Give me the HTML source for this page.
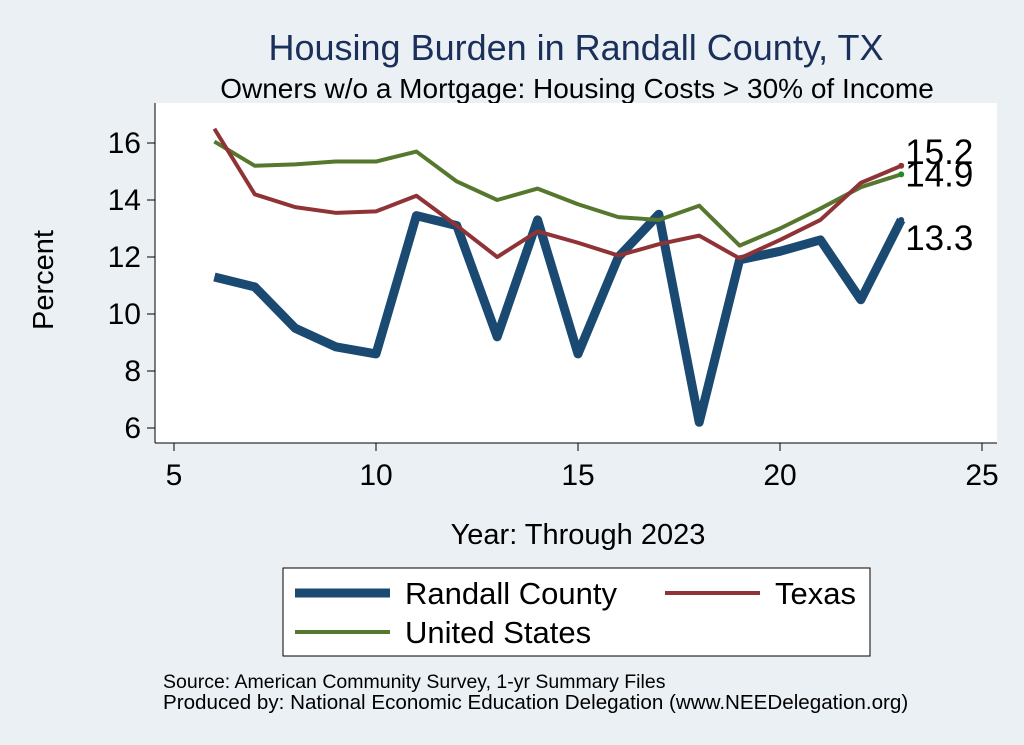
<!DOCTYPE html>
<html><head><meta charset="utf-8"><style>
body{margin:0;background:#eaf0f4;}
svg{display:block;font-family:"Liberation Sans",Arial,sans-serif;}
</style></head><body>
<svg width="1024" height="745">
<rect x="0" y="0" width="1024" height="745" fill="#eaf0f4"/>
<text x="576" y="60" font-size="36" fill="#1a2f5a" text-anchor="middle">Housing Burden in Randall County, TX</text>
<text x="577" y="98" font-size="28" fill="#000" text-anchor="middle">Owners w/o a Mortgage: Housing Costs &gt; 30% of Income</text>
<rect x="155" y="103" width="842" height="340" fill="#fff"/>
<g id="axes"></g>
<g id="series"></g>
<text x="578" y="544" font-size="29" text-anchor="middle">Year: Through 2023</text>
<text transform="translate(53,280) rotate(-90)" font-size="29" text-anchor="middle">Percent</text>
<g>
<rect x="283" y="568" width="587" height="88" fill="#fff" stroke="#000" stroke-width="1"/>
<g><line x1="295" y1="593" x2="390" y2="593" stroke="#1a4a72" stroke-width="9"/><text x="405" y="604" font-size="31">Randall County</text></g>
<g><line x1="665" y1="593" x2="760" y2="593" stroke="#8f3336" stroke-width="4"/><text x="775" y="604" font-size="31">Texas</text></g>
<g><line x1="295" y1="632" x2="390" y2="632" stroke="#55782e" stroke-width="4"/><text x="405" y="643" font-size="31">United States</text></g>
</g>
<text x="163" y="688" font-size="19.5">Source: American Community Survey, 1-yr Summary Files</text>
<text x="163" y="709" font-size="20.6">Produced by: National Economic Education Delegation (www.NEEDelegation.org)</text>
</svg>
<script>
const years=[6,7,8,9,10,11,12,13,14,15,16,17,18,19,20,21,22,23];
const randall=[11.3,10.95,9.5,8.85,8.6,13.45,13.1,9.2,13.3,8.6,12.0,13.5,6.2,11.9,12.2,12.6,10.5,13.3];
const texas=[16.5,14.2,13.75,13.55,13.6,14.15,13.1,12.0,12.9,12.5,12.05,12.45,12.75,11.95,12.6,13.3,14.6,15.2];
const us=[16.05,15.2,15.25,15.35,15.35,15.7,14.65,14.0,14.4,13.85,13.4,13.3,13.8,12.4,13.0,13.7,14.45,14.9];
const xTicks=[5,10,15,20,25];
const yTicks=[6,8,10,12,14,16];
const NS='http://www.w3.org/2000/svg';
const xs=v=>174+(v-5)*40.4;
const ys=v=>143+(16-v)*28.5;
function mk(tag,attrs,parent){const e=document.createElementNS(NS,tag);for(const k in attrs)e.setAttribute(k,attrs[k]);parent.appendChild(e);return e;}
const ax=document.getElementById('axes');
const xa=mk('line',{x1:155,y1:443,x2:997,y2:443,stroke:'#000'},ax);


const ya=mk('line',{x1:155,y1:103,x2:155,y2:443,stroke:'#000'},ax);


xTicks.forEach(t=>{mk('line',{x1:xs(t),y1:443,x2:xs(t),y2:451,stroke:'#000'},ax);
const tx=mk('text',{x:xs(t),y:485,'font-size':30,'text-anchor':'middle'},ax);tx.textContent=t;

});
yTicks.forEach(t=>{mk('line',{x1:147,y1:ys(t),x2:155,y2:ys(t),stroke:'#000'},ax);
const tx=mk('text',{x:141,y:ys(t)+10,'font-size':30,'text-anchor':'end'},ax);tx.textContent=t;

});
const sg=document.getElementById('series');
function line(d,col,w,name){const p=mk('polyline',{points:years.map((y,i)=>xs(y)+','+ys(d[i])).join(' '),fill:'none',stroke:col,'stroke-width':w,'stroke-linejoin':'round'},sg);

}
line(randall,'#1a4a72',9,'line-randall-county');
line(us,'#55782e',4,'line-united-states');
line(texas,'#8f3336',4,'line-texas');
function lab(d,col,dy,name){const n=d.length-1;mk('circle',{cx:xs(years[n]),cy:ys(d[n]),r:3,fill:col},sg);
const t=mk('text',{x:xs(years[n])+4,y:ys(d[n])+dy,'font-size':35},sg);t.textContent=d[n].toFixed(1);

}
lab(texas,'#8f3336',-2,'label-texas-last');
lab(us,'#228b22',12,'label-us-last');
lab(randall,'#1a4a72',30,'label-randall-last');
</script>
</body></html>
